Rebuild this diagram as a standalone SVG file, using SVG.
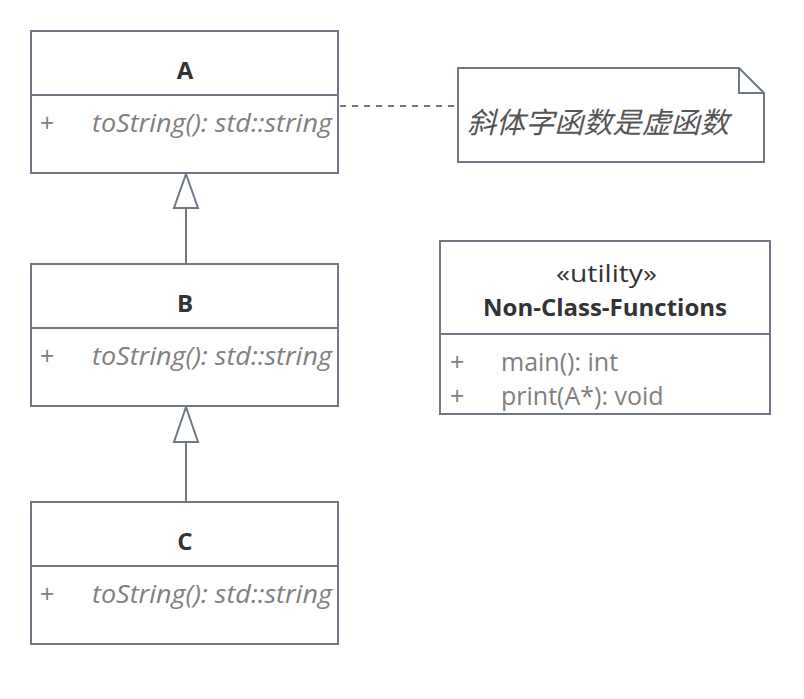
<svg xmlns="http://www.w3.org/2000/svg" width="804" height="699" viewBox="0 0 804 699">
<style>
.box{fill:#fff;stroke:#6e7884;stroke-width:2}
.ln{stroke:#6e7884;stroke-width:2;fill:none}
.tri{fill:#fff;stroke:#6e7884;stroke-width:2}
.title{font-family:"Open Sans",sans-serif;font-weight:bold;font-size:24px;fill:#333;text-anchor:middle}
.mem{font-family:"Open Sans",sans-serif;font-size:25px;fill:#808080}
.it{font-style:italic}
</style>
<rect width="804" height="699" fill="#fff"/>
<g id="connectors">
<line class="ln" x1="186" y1="264" x2="186" y2="208"/>
<path class="tri" d="M186 174 L198 208 L174 208 Z"/>
<line class="ln" x1="186" y1="502" x2="186" y2="442"/>
<path class="tri" d="M186 407 L198 442 L174 442 Z"/>
<line class="ln" x1="340" y1="106" x2="458" y2="106" stroke-dasharray="6,6"/>
</g>
<g id="A">
<rect class="box" x="31" y="31" width="307" height="142"/>
<line class="ln" x1="31" y1="95" x2="338" y2="95"/>
<text class="title" x="185" y="79">A</text>
<text class="mem" x="40" y="132">+</text>
<text class="mem it" x="92" y="132" textLength="240" lengthAdjust="spacingAndGlyphs">toString(): std::string</text>
</g>
<g id="B">
<rect class="box" x="31" y="264" width="307" height="142"/>
<line class="ln" x1="31" y1="328" x2="338" y2="328"/>
<text class="title" x="185" y="312">B</text>
<text class="mem" x="40" y="365">+</text>
<text class="mem it" x="92" y="365" textLength="240" lengthAdjust="spacingAndGlyphs">toString(): std::string</text>
</g>
<g id="C">
<rect class="box" x="31" y="502" width="307" height="142"/>
<line class="ln" x1="31" y1="566" x2="338" y2="566"/>
<text class="title" x="185" y="550">C</text>
<text class="mem" x="40" y="603">+</text>
<text class="mem it" x="92" y="603" textLength="240" lengthAdjust="spacingAndGlyphs">toString(): std::string</text>
</g>
<g id="note">
<path d="M458 68 L739 68 L764 93 L764 162 L458 162 Z" fill="#fff" stroke="#6e7884" stroke-width="2"/>
<path d="M739 68 L739 93 L764 93" fill="none" stroke="#6e7884" stroke-width="2"/>
<text x="467" y="133" font-family="'Noto Sans CJK SC',sans-serif" font-size="29" font-style="italic" fill="#555" textLength="262" lengthAdjust="spacingAndGlyphs">斜体字函数是虚函数</text>
</g>
<g id="utility">
<rect class="box" x="440" y="241" width="330" height="173"/>
<line class="ln" x1="440" y1="334" x2="770" y2="334"/>
<text x="556" y="282" font-family="'Open Sans',sans-serif" font-size="24" fill="#333" textLength="101" lengthAdjust="spacingAndGlyphs">«utility»</text>
<text class="title" x="605" y="316">Non-Class-Functions</text>
<text class="mem" x="450" y="371">+</text>
<text class="mem" x="501" y="371">main(): int</text>
<text class="mem" x="450" y="405">+</text>
<text class="mem" x="501" y="405">print(A*): void</text>
</g>
</svg>
